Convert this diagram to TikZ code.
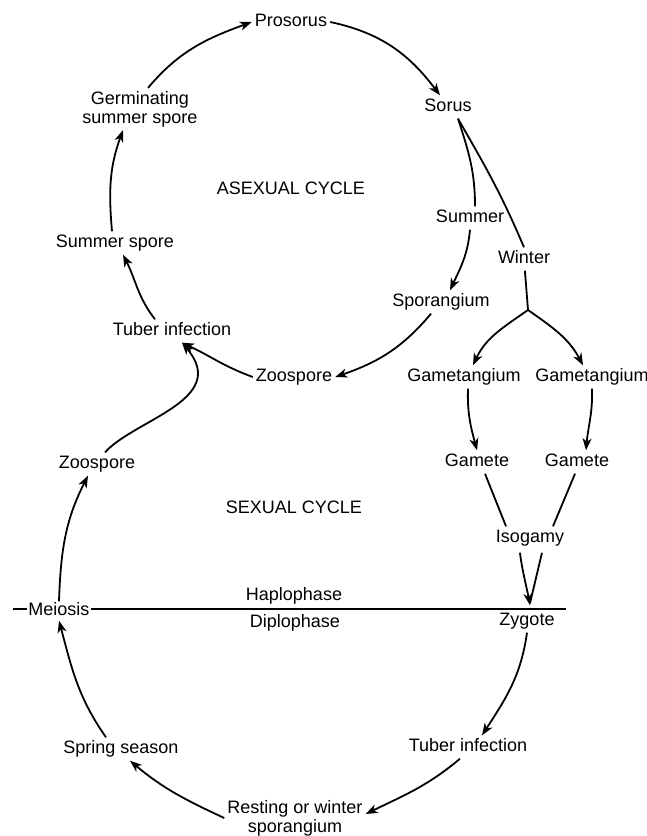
\documentclass[tikz,border=0pt]{standalone}
\usepackage{fontspec}
\setmainfont{Liberation Sans}
\usetikzlibrary{arrows.meta}
\tikzset{
  lbl/.style={inner sep=3pt, font=\fontsize{18}{19}\selectfont, text height=13pt, text depth=4pt},
  lbltwo/.style={inner sep=3pt, font=\fontsize{18}{19}\selectfont, align=center},
  arr/.style={line width=1.8pt, -{Stealth[length=12pt,width=9pt,inset=3.5pt]}},
  ln/.style={line width=1.8pt}
}
\begin{document}
\begin{tikzpicture}[x=1pt,y=1pt]
                \useasboundingbox (0,0) rectangle (647,-836);
                % Haplophase / Diplophase line
                \coordinate (hl) at (13,-609);
                \coordinate (hr) at (566,-609);
                \draw[ln] (hl) -- (hr);
                % Asexual cycle
                \node[lbl] (prosorus) at (291,-22) {Prosorus};
                \node[lbl] (sorus) at (448,-107) {Sorus};
                \node[lbltwo] (germ) at (140,-109) {Germinating\\summer spore};
                \node[lbl] (asexual) at (291,-190) {ASEXUAL CYCLE};
                \node[lbl] (summer) at (470,-218) {Summer};
                \node[lbl] (winter) at (524,-259) {Winter};
                \node[lbl] (sumspore) at (115,-243) {Summer spore};
                \node[lbl] (sporangium) at (441,-302) {Sporangium};
                \node[lbl] (tuber) at (172,-331) {Tuber infection};
                \node[lbl] (zoo) at (294,-377) {Zoospore};
                % Winter branch
                \coordinate (fork) at (528,-310);
                \node[lbl] (gaml) at (464,-377) {Gametangium};
                \node[lbl] (gamr) at (592,-377) {Gametangium};
                \node[lbl] (gametel) at (477,-462) {Gamete};
                \node[lbl] (gameter) at (577,-462) {Gamete};
                \node[lbl] (isogamy) at (530,-538) {Isogamy};
                % Sexual cycle
                \node[lbl] (zoo2) at (97,-464) {Zoospore};
                \node[lbl] (sexual) at (294,-509) {SEXUAL CYCLE};
                \node[lbl] (haplo) at (294,-596) {Haplophase};
                \node[lbl, fill=white, inner sep=1pt] (meiosis) at (59,-611) {Meiosis};
                \node[lbl] (diplo) at (295,-623) {Diplophase};
                \node[lbl] (zygote) at (527,-621) {Zygote};
                \node[lbl] (tuber2) at (468,-747) {Tuber infection};
                \node[lbl] (spring) at (121,-749) {Spring season};
                \node[lbltwo] (resting) at (295,-818) {Resting or winter\\sporangium};
                % Arrows, asexual cycle
                \draw[arr] ([xshift=8pt]germ.north) to[out=50,in=200] (prosorus.west);
                \draw[arr] (prosorus.east) to[out=-12,in=127] ([xshift=-8pt]sorus.north);
                \draw[ln] ([xshift=10pt]sorus.south) to[out=-72,in=90] ([xshift=5pt]summer.north);
                \draw[arr] (summer.south) to[out=-95,in=65] ([xshift=9pt]sporangium.north);
                \draw[arr] ([xshift=-10pt]sporangium.south) to[out=-130,in=19] (zoo.east);
                \draw[arr] (zoo.west) to[out=160,in=-25] ([xshift=10pt]tuber.south);
                \draw[arr] ([xshift=-17pt]tuber.north) to[out=128,in=-63] ([xshift=8pt]sumspore.south);
                \draw[arr] ([xshift=-3pt]sumspore.north) to[out=95,in=-110] ([xshift=-17pt]germ.south);
                % Winter branch
                \draw[ln] ([xshift=10pt]sorus.south) to[out=-60,in=113] (winter.north);
                \draw[ln] (winter) -- (fork);
                \draw[arr] (fork) to[out=-145,in=65] ([xshift=9pt]gaml.north);
                \draw[arr] (fork) to[out=-35,in=118] ([xshift=-9pt]gamr.north);
                \draw[arr] ([xshift=4pt]gaml.south) to[out=-92,in=105] (gametel.north);
                \draw[arr] (gamr.south) to[out=-88,in=85] ([xshift=9pt]gameter.north);
                \draw[ln] ([xshift=8pt]gametel.south) -- ([xshift=-24pt]isogamy.north);
                \draw[ln] ([xshift=-2pt]gameter.south) -- ([xshift=23pt]isogamy.north);
                \draw[arr] ([xshift=-10pt,yshift=-3pt]isogamy.south) to[out=-85,in=100,looseness=0.6] ([xshift=3pt,yshift=4pt]zygote.north);
                \draw[ln] ([xshift=12pt,yshift=-3pt]isogamy.south) -- ([xshift=3pt,yshift=6pt]zygote.north);
                % Arrows, sexual cycle
                \draw[arr] ([xshift=8pt]zoo2.north) .. controls +(30,33) and +(48,-57) .. ([xshift=10pt]tuber.south);
                \draw[arr] (meiosis.north) to[out=88,in=-117] ([xshift=-9pt]zoo2.south);
                \draw[arr] ([xshift=-15pt]spring.north) to[out=125,in=-75] (meiosis.south);
                \draw[arr] (zygote.south) to[out=-98,in=57] ([xshift=14pt]tuber2.north);
                \draw[arr] ([xshift=-8pt]tuber2.south) to[out=-140,in=26] ([yshift=4pt]resting.east);
                \draw[arr] (resting.west) to[out=155,in=-40] ([xshift=9pt]spring.south);
\end{tikzpicture}
\end{document}
